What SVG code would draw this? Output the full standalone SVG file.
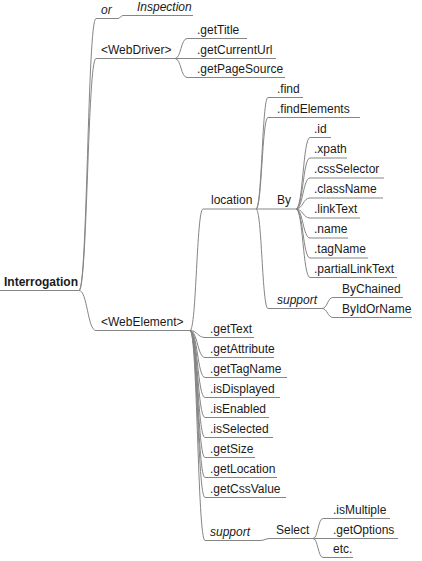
<svg xmlns="http://www.w3.org/2000/svg" width="422" height="561" viewBox="0 0 422 561">
<style>
text{font-family:"Liberation Sans",Arial,sans-serif;font-size:12px;fill:#1a1a1a}
.b{font-weight:bold}
.i{font-style:italic}
line,path{stroke:#858585;stroke-width:1;fill:none}
</style>
<rect width="422" height="561" fill="#fff"/>
<g id="connectors">
<path d="M79,290.5 C87.5,290.5 87.5,18.5 96,18.5"/>
<path d="M118,18.5 C120.5,18.5 120.5,15.5 123,15.5"/>
<path d="M79,290.5 C87.5,290.5 87.5,58.5 96,58.5"/>
<path d="M79,290.5 C87.5,290.5 87.5,330.5 96,330.5"/>
<path d="M175,58.5 C181,58.5 181,38.5 187,38.5"/>
<path d="M175,58.5 L180,58.5"/>
<path d="M175,58.5 C181,58.5 181,77.5 187,77.5"/>
<path d="M190,330.5 C196.5,330.5 196.5,209 203,209"/>
<path d="M190,330.5 C197.5,330.5 197.5,337.5 205,337.5"/>
<path d="M190,330.5 C197.5,330.5 197.5,357.5 205,357.5"/>
<path d="M190,330.5 C197.5,330.5 197.5,377.5 205,377.5"/>
<path d="M190,330.5 C197.5,330.5 197.5,397.5 205,397.5"/>
<path d="M190,330.5 C197.5,330.5 197.5,417.5 205,417.5"/>
<path d="M190,330.5 C197.5,330.5 197.5,437.5 205,437.5"/>
<path d="M190,330.5 C197.5,330.5 197.5,457.5 205,457.5"/>
<path d="M190,330.5 C197.5,330.5 197.5,477.5 205,477.5"/>
<path d="M190,330.5 C197.5,330.5 197.5,497.5 205,497.5"/>
<path d="M190,330.5 C197.5,330.5 197.5,540.5 205,540.5"/>
<path d="M256,209 C262,209 262,97.5 268,97.5"/>
<path d="M256,209 C262,209 262,117.5 268,117.5"/>
<path d="M256,209 L258,209"/>
<path d="M256,209 C262,209 262,308.5 268,308.5"/>
<path d="M296,209 C303,209 303,137.5 310,137.5"/>
<path d="M296,209 C303,209 303,158 310,158"/>
<path d="M296,209 C303,209 303,178 310,178"/>
<path d="M296,209 C303,209 303,198 310,198"/>
<path d="M296,209 C303,209 303,218 310,218"/>
<path d="M296,209 C303,209 303,238 310,238"/>
<path d="M296,209 C303,209 303,258 310,258"/>
<path d="M296,209 C303,209 303,277.5 310,277.5"/>
<path d="M322,308.5 C327.5,308.5 327.5,297.5 333,297.5"/>
<path d="M322,308.5 C327.5,308.5 327.5,317.5 333,317.5"/>
<path d="M260,540.5 C265,540.5 265,538.5 270,538.5"/>
<path d="M313,538.5 C318,538.5 318,518.5 323,518.5"/>
<path d="M313,538.5 L323,538.5"/>
<path d="M313,538.5 C318,538.5 318,557.5 323,557.5"/>
</g>
<g id="root"><text class="b" x="4" y="286">Interrogation</text><line x1="0" y1="290.5" x2="79" y2="290.5"/></g>
<g id="or"><text class="i" x="101" y="14">or</text><line x1="96" y1="18.5" x2="118" y2="18.5"/></g>
<g id="inspection"><text class="i" x="137" y="11">Inspection</text><line x1="123" y1="15.5" x2="193" y2="15.5"/></g>
<g id="webdriver"><text x="101" y="54">&lt;WebDriver&gt;</text><line x1="96" y1="58.5" x2="175" y2="58.5"/></g>
<g id="getTitle"><text x="197" y="34">.getTitle</text><line x1="187" y1="38.5" x2="247" y2="38.5"/></g>
<g id="getCurrentUrl"><text x="197" y="54">.getCurrentUrl</text><line x1="180" y1="58.5" x2="276" y2="58.5"/></g>
<g id="getPageSource"><text x="197" y="73">.getPageSource</text><line x1="187" y1="77.5" x2="285" y2="77.5"/></g>
<g id="webelement"><text x="101" y="326">&lt;WebElement&gt;</text><line x1="96" y1="330.5" x2="190" y2="330.5"/></g>
<g id="location"><text x="211" y="204">location</text><line x1="203" y1="209" x2="256" y2="209"/></g>
<g id="find"><text x="277" y="93">.find</text><line x1="268" y1="97.5" x2="303" y2="97.5"/></g>
<g id="findElements"><text x="277" y="113">.findElements</text><line x1="268" y1="117.5" x2="360" y2="117.5"/></g>
<g id="by"><text x="277" y="204">By</text><line x1="258" y1="209" x2="296" y2="209"/></g>
<g id="id"><text x="314" y="133">.id</text><line x1="310" y1="137.5" x2="331" y2="137.5"/></g>
<g id="xpath"><text x="314" y="153">.xpath</text><line x1="310" y1="158" x2="347" y2="158"/></g>
<g id="cssSelector"><text x="314" y="173">.cssSelector</text><line x1="310" y1="178" x2="384" y2="178"/></g>
<g id="className"><text x="314" y="193">.className</text><line x1="310" y1="198" x2="383" y2="198"/></g>
<g id="linkText"><text x="314" y="213">.linkText</text><line x1="310" y1="218" x2="360" y2="218"/></g>
<g id="name"><text x="314" y="233">.name</text><line x1="310" y1="238" x2="348" y2="238"/></g>
<g id="tagName"><text x="314" y="253">.tagName</text><line x1="310" y1="258" x2="368" y2="258"/></g>
<g id="partialLinkText"><text x="314" y="273">.partialLinkText</text><line x1="310" y1="277.5" x2="397" y2="277.5"/></g>
<g id="support1"><text class="i" x="277" y="304">support</text><line x1="268" y1="308.5" x2="322" y2="308.5"/></g>
<g id="byChained"><text x="342" y="293">ByChained</text><line x1="333" y1="297.5" x2="403" y2="297.5"/></g>
<g id="byIdOrName"><text x="342" y="313">ByIdOrName</text><line x1="333" y1="317.5" x2="412" y2="317.5"/></g>
<g id="getText"><text x="210" y="333">.getText</text><line x1="205" y1="337.5" x2="254" y2="337.5"/></g>
<g id="getAttribute"><text x="210" y="353">.getAttribute</text><line x1="205" y1="357.5" x2="274" y2="357.5"/></g>
<g id="getTagName"><text x="210" y="373">.getTagName</text><line x1="205" y1="377.5" x2="287" y2="377.5"/></g>
<g id="isDisplayed"><text x="210" y="393">.isDisplayed</text><line x1="205" y1="397.5" x2="280" y2="397.5"/></g>
<g id="isEnabled"><text x="210" y="413">.isEnabled</text><line x1="205" y1="417.5" x2="269" y2="417.5"/></g>
<g id="isSelected"><text x="210" y="433">.isSelected</text><line x1="205" y1="437.5" x2="273" y2="437.5"/></g>
<g id="getSize"><text x="210" y="453">.getSize</text><line x1="205" y1="457.5" x2="255" y2="457.5"/></g>
<g id="getLocation"><text x="210" y="473">.getLocation</text><line x1="205" y1="477.5" x2="277" y2="477.5"/></g>
<g id="getCssValue"><text x="210" y="493">.getCssValue</text><line x1="205" y1="497.5" x2="286" y2="497.5"/></g>
<g id="support2"><text class="i" x="210" y="536">support</text><line x1="205" y1="540.5" x2="260" y2="540.5"/></g>
<g id="select"><text x="276" y="534">Select</text><line x1="270" y1="538.5" x2="313" y2="538.5"/></g>
<g id="isMultiple"><text x="333" y="514">.isMultiple</text><line x1="323" y1="518.5" x2="390" y2="518.5"/></g>
<g id="getOptions"><text x="333" y="534">.getOptions</text><line x1="323" y1="538.5" x2="398" y2="538.5"/></g>
<g id="etc"><text x="333" y="553">etc.</text><line x1="323" y1="557.5" x2="353" y2="557.5"/></g>
</svg>
